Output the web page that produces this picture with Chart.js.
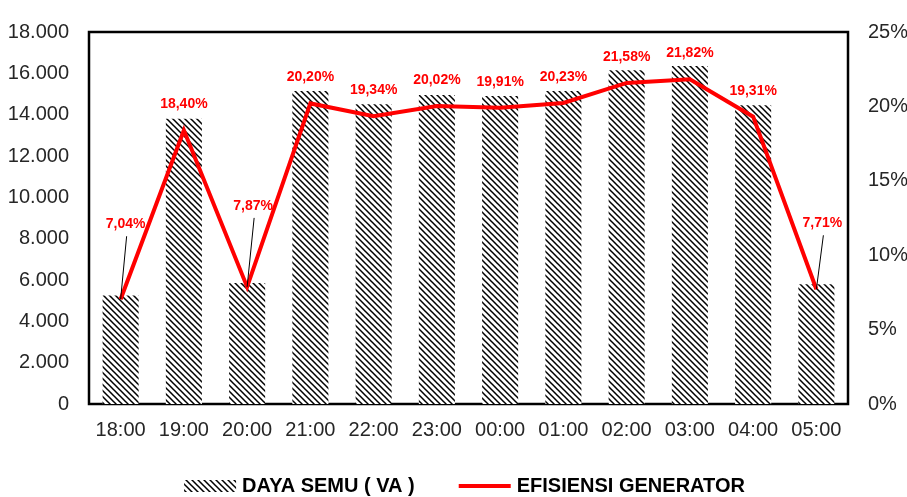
<!DOCTYPE html>
<html>
<head>
<meta charset="utf-8">
<title>Daya Semu dan Efisiensi Generator</title>
<script src="https://cdn.jsdelivr.net/npm/chart.js@4.4.1/dist/chart.umd.min.js"></script>
<style>
  html, body { margin: 0; padding: 0; background: #fff; }
  #wrap { width: 907px; height: 497px; position: relative; }
</style>
</head>
<body>
<div id="wrap"><canvas id="chart"></canvas></div>
<script>
const hours = ['18:00', '19:00', '20:00', '21:00', '22:00', '23:00', '00:00', '01:00', '02:00', '03:00', '04:00', '05:00'];
const dayaSemu = [5250, 13800, 5850, 15150, 14500, 14950, 14900, 15150, 16150, 16350, 14450, 5800];
const efisiensi = [7.04, 18.40, 7.87, 20.20, 19.34, 20.02, 19.91, 20.23, 21.58, 21.82, 19.31, 7.71];
const seriesNames = ['DAYA SEMU ( VA )', 'EFISIENSI GENERATOR'];

const sans = "'Liberation Sans', Arial, sans-serif";
const textColor = '#262626';

// label offsets from the point (px); the moved ones get a leader line
const labelOffsets = {0: [5, -75], 2: [6, -81], 11: [6, -66]};

function hatchTile() {
    const c = document.createElement('canvas');
    c.width = 6;
    c.height = 6;
    const g = c.getContext('2d');
    g.fillStyle = '#fff';
    g.fillRect(0, 0, 6, 6);
    g.strokeStyle = '#000';
    g.lineWidth = 1.5;
    g.beginPath();
    g.moveTo(-1, -1); g.lineTo(7, 7);
    g.moveTo(-4, 2); g.lineTo(1, 7);
    g.moveTo(5, -1); g.lineTo(10, 4);
    g.stroke();
    return c;
}

const ctx = document.getElementById('chart').getContext('2d');
const hatch = ctx.createPattern(hatchTile(), 'repeat');

const framePlugin = {
    id: 'frame',
    beforeDatasetsDraw(chart) {
        const a = chart.chartArea;
        const c = chart.ctx;
        c.save();
        c.strokeStyle = '#000';
        c.lineWidth = 2.5;
        c.strokeRect(a.left, a.top, a.right - a.left, a.bottom - a.top);
        c.restore();
    }
};

const labelPlugin = {
    id: 'pctLabels',
    afterDatasetsDraw(chart) {
        const meta = chart.getDatasetMeta(0);
        const c = chart.ctx;
        c.save();
        c.font = 'bold 14px ' + sans;
        c.fillStyle = '#ff0000';
        c.textAlign = 'center';
        c.textBaseline = 'middle';
        meta.data.forEach((pt, i) => {
            const off = labelOffsets[i] || [0, -26];
            const lx = pt.x + off[0];
            const ly = pt.y + off[1];
            if (labelOffsets[i]) {
                c.strokeStyle = '#000';
                c.lineWidth = 1;
                c.beginPath();
                c.moveTo(lx + 1, ly + 12);
                c.lineTo(pt.x, pt.y);
                c.stroke();
            }
            c.fillText(efisiensi[i].toFixed(2).replace('.', ',') + '%', lx, ly);
        });
        c.restore();
    }
};

// legend drawn by hand: hatched swatch for the bars, red stroke for the line
const legendPlugin = {
    id: 'bottomLegend',
    afterDraw(chart) {
        const c = chart.ctx;
        const y = 486;
        const box = 52, gapText = 6, gapItem = 44;
        c.save();
        c.font = 'bold 20px ' + sans;
        c.textBaseline = 'middle';
        c.fillStyle = '#000';
        const w0 = c.measureText(seriesNames[0]).width;
        const w1 = c.measureText(seriesNames[1]).width;
        const total = box + gapText + w0 + gapItem + box + gapText + w1;
        let x = chart.width / 2 + 11 - total / 2;
        c.fillStyle = hatch;
        c.fillRect(x, y - 6, box, 12);
        x += box + gapText;
        c.fillStyle = '#000';
        c.fillText(seriesNames[0], x, y);
        x += w0 + gapItem;
        c.strokeStyle = '#ff0000';
        c.lineWidth = 4;
        c.beginPath();
        c.moveTo(x, y);
        c.lineTo(x + box, y);
        c.stroke();
        x += box + gapText;
        c.fillText(seriesNames[1], x, y);
        c.restore();
    }
};

new Chart(ctx, {
    type: 'bar',
    data: {
        labels: hours,
        datasets: [{
            type: 'line',
            label: seriesNames[1],
            data: efisiensi,
            yAxisID: 'y1',
            borderColor: '#ff0000',
            backgroundColor: '#ff0000',
            borderWidth: 4,
            pointRadius: 0,
            tension: 0
        }, {
            label: seriesNames[0],
            data: dayaSemu,
            yAxisID: 'y',
            backgroundColor: hatch,
            borderWidth: 0,
            barPercentage: 0.57,
            categoryPercentage: 1
        }]
    },
    options: {
        responsive: true,
        maintainAspectRatio: false,
        animation: false,
        layout: { padding: { top: 27, left: 0, right: 0, bottom: 53 } },
        plugins: {
            tooltip: { enabled: false },
            legend: { display: false }
        },
        scales: {
            x: {
                grid: { display: false, drawTicks: false },
                border: { display: false },
                ticks: { color: textColor, padding: 14, maxRotation: 0, autoSkip: false, font: { family: sans, size: 20 } },
                afterFit(s) { s.height = 40; }
            },
            y: {
                position: 'left',
                min: 0,
                max: 18000,
                grid: { display: false, drawTicks: false },
                border: { display: false },
                ticks: {
                    stepSize: 2000,
                    padding: 20,
                    color: textColor,
                    font: { family: sans, size: 20 },
                    callback: v => v.toLocaleString('de-DE')
                },
                afterFit(s) { s.width = 89; }
            },
            y1: {
                position: 'right',
                min: 0,
                max: 25,
                grid: { display: false, drawTicks: false },
                border: { display: false },
                ticks: {
                    stepSize: 5,
                    padding: 20,
                    color: textColor,
                    font: { family: sans, size: 20 },
                    callback: v => v + '%'
                },
                afterFit(s) { s.width = 59; }
            }
        }
    },
    plugins: [framePlugin, labelPlugin, legendPlugin]
});
</script>
</body>
</html>
